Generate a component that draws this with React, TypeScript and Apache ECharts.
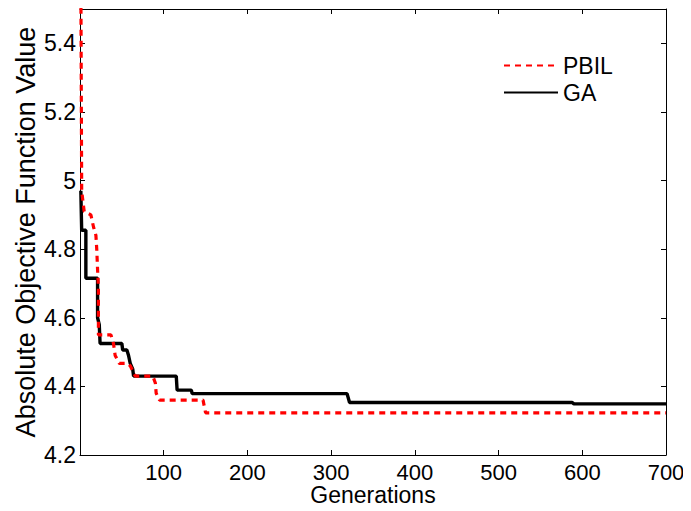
import React, { useEffect, useRef } from "react";
import * as echarts from "echarts";

const gaGenerations = [1, 2, 7, 7, 21, 21, 23, 24, 50, 51, 56, 58, 60, 63, 64, 115, 116, 133, 134, 319, 322, 588, 590, 700];
const gaValues = [4.97, 4.855, 4.855, 4.715, 4.715, 4.6, 4.58, 4.525, 4.525, 4.506, 4.506, 4.49, 4.467, 4.45, 4.43, 4.43, 4.389, 4.389, 4.379, 4.379, 4.353, 4.353, 4.349, 4.349];

const pbilGenerations = [1, 2, 5, 13, 16, 19, 20, 21, 22, 22, 37, 40, 42, 47, 57, 60, 66, 87, 90, 91, 95, 147, 150, 700];
const pbilValues = [5.6, 4.97, 4.91, 4.9, 4.866, 4.84, 4.8, 4.74, 4.69, 4.55, 4.55, 4.525, 4.49, 4.467, 4.467, 4.46, 4.43, 4.43, 4.41, 4.38, 4.36, 4.36, 4.323, 4.323];

const seriesNames = ["PBIL", "GA"];
const xTitle = "Generations";
const yTitle = "Absolute Objective Function Value";

const FONT = "Liberation Sans, Arial, Helvetica, sans-serif";

export default function App() {
  const ref = useRef<HTMLDivElement>(null);
  useEffect(() => {
    if (!ref.current) return;
    const chart = echarts.init(ref.current, undefined, { renderer: "svg" });
    const pair = (xs: number[], ys: number[]) => xs.map((x, i) => [x, ys[i]]);
    const axisLine = { show: true, onZero: false, lineStyle: { color: "#000", width: 1 } };
    const tick = { show: true, inside: true, length: 5, lineStyle: { color: "#000" } };
    chart.setOption({
      animation: false,
      backgroundColor: "#fff",
      textStyle: { fontFamily: FONT },
      grid: { left: 80, right: 25, top: 9, bottom: 56, containLabel: false, outerBoundsMode: "none" },
      legend: {
        orient: "vertical",
        left: 498,
        top: 49,
        itemWidth: 54,
        itemHeight: 4,
        itemGap: 4,
        itemStyle: { opacity: 0 },
        textStyle: { fontFamily: FONT, fontSize: 23, color: "#000" },
        data: seriesNames,
      },
      xAxis: [
        {
          type: "value",
          min: 0,
          max: 700,
          interval: 100,
          position: "bottom",
          name: xTitle,
          nameLocation: "middle",
          nameGap: 30,
          nameMoveOverlap: false,
          nameTextStyle: { fontFamily: FONT, fontSize: 23, lineHeight: 20, color: "#000" },
          axisLine,
          axisTick: tick,
          splitLine: { show: false },
          axisLabel: {
            color: "#000",
            fontSize: 22,
            lineHeight: 18,
            fontFamily: FONT,
            margin: 8,
            formatter: (v: number) => (v === 0 ? "" : String(v)),
          },
        },
        {
          type: "value",
          min: 0,
          max: 700,
          interval: 100,
          position: "top",
          axisLine,
          axisTick: tick,
          splitLine: { show: false },
          axisLabel: { show: false },
        },
      ],
      yAxis: [
        {
          type: "value",
          min: 4.2,
          max: 5.5,
          interval: 0.2,
          position: "left",
          name: yTitle,
          nameLocation: "middle",
          nameGap: 41,
          nameMoveOverlap: false,
          nameTextStyle: { fontFamily: FONT, fontSize: 27, color: "#000" },
          axisLine,
          axisTick: tick,
          splitLine: { show: false },
          axisLabel: {
            color: "#000",
            fontSize: 23,
            fontFamily: FONT,
            margin: 4,
            showMaxLabel: false,
          },
        },
        {
          type: "value",
          min: 4.2,
          max: 5.5,
          interval: 0.2,
          position: "right",
          axisLine,
          axisTick: tick,
          splitLine: { show: false },
          axisLabel: { show: false },
        },
      ],
      series: [
        {
          name: seriesNames[0],
          type: "line",
          data: pair(pbilGenerations, pbilValues),
          showSymbol: false,
          symbol: "none",
          clip: true,
          color: "#ff0000",
          lineStyle: { color: "#ff0000", width: 3.2, type: [6, 5] },
          z: 3,
        },
        {
          name: seriesNames[1],
          type: "line",
          data: pair(gaGenerations, gaValues),
          showSymbol: false,
          symbol: "none",
          clip: true,
          color: "#000",
          lineStyle: { color: "#000", width: 3.4 },
          z: 2,
        },
      ],
    });
    return () => chart.dispose();
  }, []);
  return <div ref={ref} style={{ width: 691, height: 511, margin: -8 }} />;
}
